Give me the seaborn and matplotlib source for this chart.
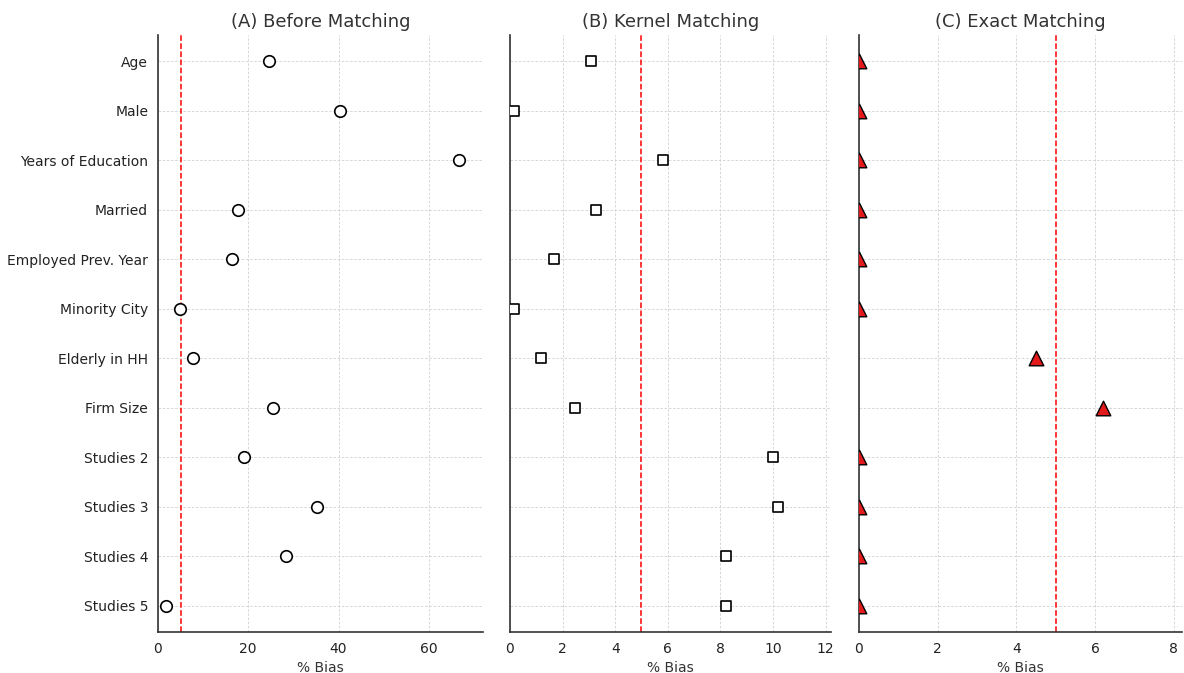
import matplotlib
matplotlib.use("Agg")
import matplotlib.pyplot as plt
import seaborn as sns
import pandas as pd

variables = ["Age", "Male", "Years of Education", "Married", "Employed Prev. Year",
             "Minority City", "Elderly in HH", "Firm Size", "Studies 2", "Studies 3",
             "Studies 4", "Studies 5"]
before_bias = [24.6, 40.3, 66.7, 17.7, 16.4, 4.9, 7.8, 25.5, 19.0, 35.2, 28.4, 1.8]
kernel_bias = [3.07, 0.15, 5.8, 3.27, 1.67, 0.15, 1.18, 2.47, 10.0, 10.2, 8.2, 8.2]
exact_bias = [0.0, 0.0, 0.0, 0.0, 0.0, 0.0, 4.5, 6.2, 0.0, 0.0, 0.0, 0.0]
titles = ["(A) Before Matching", "(B) Kernel Matching", "(C) Exact Matching"]
threshold = 5

df = pd.DataFrame({"Variable": variables, "Before": before_bias,
                   "Kernel": kernel_bias, "Exact": exact_bias})

sns.set_style("white")
plt.rcParams["font.family"] = ["DejaVu Sans"]

fig = plt.figure(figsize=(11.84, 6.73), dpi=100)
bottom, top = 0.061, 0.948
axA = fig.add_axes([0.1334, bottom, 0.2745, top - bottom])
axB = fig.add_axes([0.4307, bottom, 0.2711, top - bottom], sharey=axA)
axC = fig.add_axes([0.7255, bottom, 0.2725, top - bottom], sharey=axA)

specs = [
    (axA, "Before", dict(marker="o", color="white", edgecolor="black", size=8.3, linewidth=1.2), (0, 72), [0, 20, 40, 60]),
    (axB, "Kernel", dict(marker="s", color="white", edgecolor="black", size=7.8, linewidth=1.2), (0, 12.2), [0, 2, 4, 6, 8, 10, 12]),
    (axC, "Exact", dict(marker="^", color="#e31a1c", edgecolor="black", size=10.5, linewidth=1.0), (0, 8.2), [0, 2, 4, 6, 8]),
]

for (ax, col, mk, xlim, xt), title in zip(specs, titles):
    sns.stripplot(data=df, x=col, y="Variable", order=variables, jitter=False,
                  ax=ax, zorder=3, **mk)
    ax.grid(True, axis="both", color="#d0d0d0", linestyle=(0, (3, 2)), linewidth=0.6)
    ax.set_axisbelow(True)
    ax.axvline(threshold, color="red", linestyle="--", linewidth=1.1, zorder=2)
    ax.set_xlim(*xlim)
    ax.set_xticks(xt)
    ax.set_ylim(len(variables) - 0.47, -0.53)
    ax.set_xlabel("% Bias", fontsize=10, color="#333333")
    ax.set_ylabel("")
    ax.set_title(title, fontsize=13, color="#333333")
    ax.tick_params(axis="both", colors="#333333", labelsize=10, length=3.5, width=0.8)
    ax.tick_params(axis="both", labelcolor="#222222")
    sns.despine(ax=ax)
    for sp in ["left", "bottom"]:
        ax.spines[sp].set_color("#333333")
        ax.spines[sp].set_linewidth(1.2)

plt.setp(axB.get_yticklabels(), visible=False)
plt.setp(axC.get_yticklabels(), visible=False)

fig.savefig("out.png", dpi=100)
